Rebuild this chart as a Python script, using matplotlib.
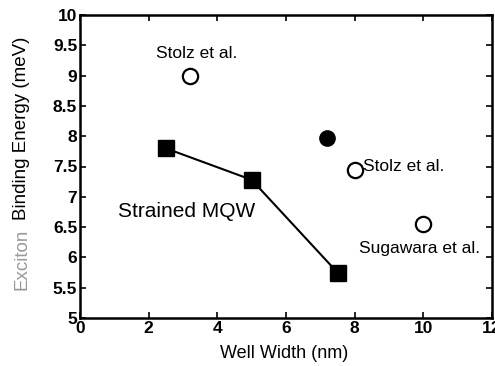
import matplotlib
matplotlib.use("Agg")
import matplotlib.pyplot as plt

# Data
mqw_width = [2.5, 5.0, 7.5]
mqw_energy = [7.8, 7.28, 5.75]
filled_width = [7.2]
filled_energy = [7.97]
open_width = [3.2, 8.0, 10.0]
open_energy = [9.0, 7.45, 6.55]
xticks = [0, 2, 4, 6, 8, 10, 12]
yticks = [5, 5.5, 6, 6.5, 7, 7.5, 8, 8.5, 9, 9.5, 10]
ytick_labels = ["5", "5.5", "6", "6.5", "7", "7.5", "8", "8.5", "9", "9.5", "10"]

plt.rcParams['font.family'] = ['Liberation Sans', 'DejaVu Sans']

fig = plt.figure(figsize=(4.95, 3.66), dpi=100)
ax = fig.add_axes([80/495, 1-318/366, 412/495, 303/366])

ax.plot(mqw_width, mqw_energy, color='black', lw=1.5, marker='s', ms=12,
        mfc='black', mec='black', zorder=3)
ax.plot(filled_width, filled_energy, ls='none', marker='o', ms=11,
        mfc='black', mec='black', zorder=3)
ax.plot(open_width, open_energy, ls='none', marker='o', ms=11,
        mfc='white', mec='black', mew=1.6, zorder=3)

ax.text(3.4, 9.36, "Stolz et al.", fontsize=12.5, ha='center', va='center')
ax.text(8.25, 7.5, "Stolz et al.", fontsize=12.5, ha='left', va='center')
ax.text(9.9, 6.15, "Sugawara et al.", fontsize=12.5, ha='center', va='center')
ax.text(3.1, 6.75, "Strained MQW", fontsize=15, ha='center', va='center')

ax.set_xlim(0, 12)
ax.set_ylim(5, 10)
ax.set_xticks(xticks)
ax.set_xticklabels([str(t) for t in xticks], fontsize=12.5, fontweight='bold')
ax.set_yticks(yticks)
ax.set_yticklabels(ytick_labels, fontsize=12.5, fontweight='bold')
ax.tick_params(direction='in', top=True, right=True, length=4, width=1.2, pad=2)
for s in ax.spines.values():
    s.set_linewidth(1.8)

fig.text(284/495, 1-353/366, "Well Width (nm)", fontsize=13, ha='center', va='center')
fig.text(22/495, 1-128/366, "Binding Energy (meV)", rotation=90, fontsize=13.5,
         ha='center', va='center')
fig.text(22/495, 1-259/366, "Exciton", rotation=90, fontsize=13.5,
         ha='center', va='center', color='#999999')

fig.savefig("out.png", dpi=100)
